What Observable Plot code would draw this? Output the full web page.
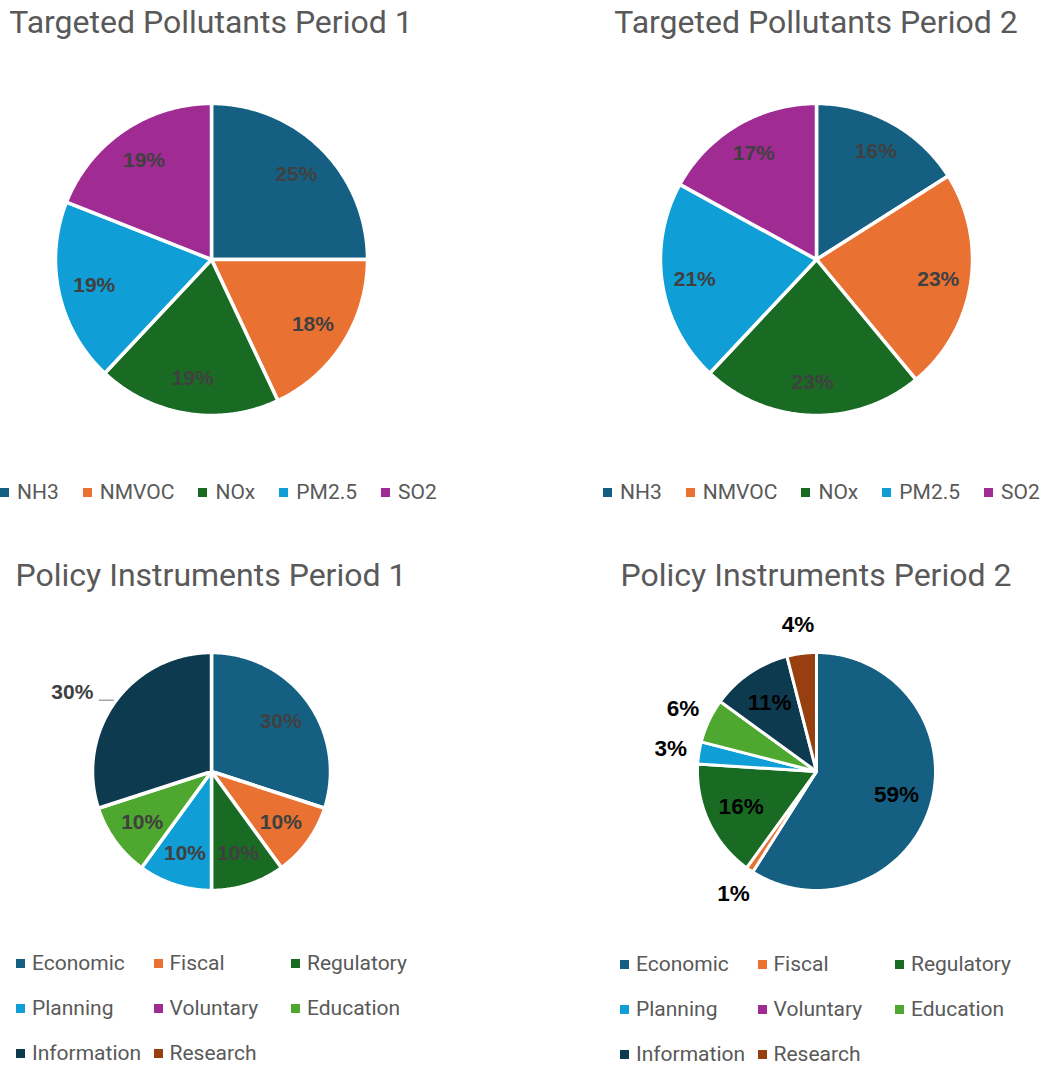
<!DOCTYPE html>
<html><head><meta charset="utf-8">
<script src="https://cdn.jsdelivr.net/npm/d3@7"></script>
<script src="https://cdn.jsdelivr.net/npm/@observablehq/plot@0.6"></script>
<style>
html,body{margin:0;padding:0;background:#fff}
body{width:1046px;height:1066px;position:relative;overflow:hidden;font-family:Roboto,"Open Sans",sans-serif}
.title{position:absolute;color:#595959;font-size:32px;line-height:32px;white-space:nowrap;transform:translateX(-50%)}
.pie{position:absolute}
.legend{position:absolute;color:#595959;font-size:21px;line-height:24px;white-space:nowrap}
.legend.row{display:flex;gap:24px}
.legend.grid{display:grid;grid-template-columns:repeat(3,137.5px);grid-auto-rows:45px}
.item{display:flex;align-items:center;height:24px}
.sw{width:9px;height:9px;margin-right:8px;flex:none}
.grid .sw{margin-right:7px}
</style></head><body>
<script>
// ---- data ----
const pollutants = ["NH3", "NMVOC", "NOx", "PM2.5", "SO2"];
const pollutantsPeriod1 = [25, 18, 19, 19, 19];
const pollutantsPeriod2 = [16, 23, 23, 21, 17];
const instruments = ["Economic", "Fiscal", "Regulatory", "Planning", "Voluntary", "Education", "Information", "Research"];
const instrumentsPeriod1 = [30, 10, 10, 10, 0, 10, 30, 0];
const instrumentsPeriod2 = [59, 1, 16, 3, 0, 6, 11, 4];
const pollutantColors = ["#156082", "#E97132", "#196B24", "#0F9ED5", "#A02B93"];
const instrumentColors = ["#156082", "#E97132", "#196B24", "#0F9ED5", "#A02B93", "#4EA72E", "#0E3A4F", "#973F0F"];

function addTitle(text, cx, top) {
  const d = document.createElement("div");
  d.className = "title"; d.textContent = text;
  d.style.left = cx + "px"; d.style.top = top + "px";
  document.body.appendChild(d);
}

function addLegend(cats, colors, cls, left, top) {
  const d = document.createElement("div");
  d.className = "legend " + cls;
  d.style.left = left + "px"; d.style.top = top + "px";
  cats.forEach((c, i) => {
    const it = document.createElement("div"); it.className = "item";
    const sw = document.createElement("span"); sw.className = "sw"; sw.style.background = colors[i];
    const t = document.createElement("span"); t.textContent = c;
    it.appendChild(sw); it.appendChild(t); d.appendChild(it);
  });
  document.body.appendChild(d);
}

function addPie(o) {
  const {cats, vals, colors, cx, cy, R, hw, hh, labelR, outR, outside, leader, fontSize, labelColor, gap} = o;
  const total = d3.sum(vals);
  const arcs = d3.pie().sort(null).value(d => d)(vals);
  const pts = [], labels = [], leaders = [];
  arcs.forEach((a, i) => {
    if (vals[i] <= 0) return;
    const cat = cats[i];
    const n = Math.max(2, Math.ceil((a.endAngle - a.startAngle) / 0.01));
    pts.push({cat, x: 0, y: 0});
    for (let k = 0; k <= n; k++) {
      const t = a.startAngle + (a.endAngle - a.startAngle) * k / n;
      pts.push({cat, x: Math.sin(t), y: Math.cos(t)});
    }
    const m = (a.startAngle + a.endAngle) / 2;
    const text = Math.round(vals[i] / total * 100) + "%";
    if (leader.includes(cat)) {
      const ex = Math.sin(m) * 1.02, ey = Math.cos(m) * 1.02;
      const lx = ex - 14 / R;
      leaders.push({cat, x: ex, y: ey}, {cat, x: lx, y: ey});
      labels.push({cat, text, x: lx - 6 / R, y: ey + 8 / R, anchor: "end"});
    } else {
      const r = outside.includes(cat) ? outR : labelR;
      labels.push({cat, text, x: r * Math.sin(m), y: r * Math.cos(m), anchor: "middle"});
    }
  });
  const font = {fill: labelColor, fontSize, fontWeight: "bold", fontFamily: "Liberation Sans, Arial, sans-serif"};
  const chart = Plot.plot({
    width: 2 * hw, height: 2 * hh, margin: 0,
    x: {domain: [-hw / R, hw / R], axis: null},
    y: {domain: [-hh / R, hh / R], axis: null},
    color: {domain: cats, range: colors},
    marks: [
      Plot.line(pts, {x: "x", y: "y", z: "cat", fill: "cat", stroke: "white", strokeWidth: gap, curve: "linear-closed", strokeLinejoin: "round"}),
      Plot.line(leaders, {x: "x", y: "y", z: "cat", stroke: "#A6A6A6", strokeWidth: 1.5}),
      Plot.text(labels.filter(d => d.anchor === "middle"), {x: "x", y: "y", text: "text", ...font}),
      Plot.text(labels.filter(d => d.anchor === "end"), {x: "x", y: "y", text: "text", textAnchor: "end", ...font})
    ]
  });
  const wrap = document.createElement("div");
  wrap.className = "pie";
  wrap.style.left = (cx - hw) + "px"; wrap.style.top = (cy - hh) + "px";
  wrap.appendChild(chart);
  document.body.appendChild(wrap);
}

addTitle("Targeted Pollutants Period 1", 211, 6);
addTitle("Targeted Pollutants Period 2", 816, 6);
addTitle("Policy Instruments Period 1", 211, 559);
addTitle("Policy Instruments Period 2", 816, 559);

addPie({cats: pollutants, vals: pollutantsPeriod1, colors: pollutantColors, cx: 211, cy: 259, R: 156, hw: 200, hh: 190,
  labelR: 0.77, outR: 1.24, outside: [], leader: [], fontSize: 21, labelColor: "#404040", gap: 3.5});
addPie({cats: pollutants, vals: pollutantsPeriod2, colors: pollutantColors, cx: 816, cy: 259, R: 156, hw: 200, hh: 190,
  labelR: 0.79, outR: 1.24, outside: [], leader: [], fontSize: 21, labelColor: "#404040", gap: 3.5});
addPie({cats: instruments, vals: instrumentsPeriod1, colors: instrumentColors, cx: 211, cy: 771, R: 119, hw: 200, hh: 165,
  labelR: 0.72, outR: 1.24, outside: [], leader: ["Information"], fontSize: 21, labelColor: "#404040", gap: 3.5});
addPie({cats: instruments, vals: instrumentsPeriod2, colors: instrumentColors, cx: 816, cy: 771, R: 119, hw: 200, hh: 165,
  labelR: 0.70, outR: 1.24, outside: ["Fiscal", "Planning", "Education", "Research"], leader: [], fontSize: 22.5, labelColor: "#000000", gap: 3});

addLegend(pollutants, pollutantColors, "row", 0, 480);
addLegend(pollutants, pollutantColors, "row", 603, 480);
addLegend(instruments, instrumentColors, "grid", 16, 951);
addLegend(instruments, instrumentColors, "grid", 620, 952);
</script>
</body></html>
